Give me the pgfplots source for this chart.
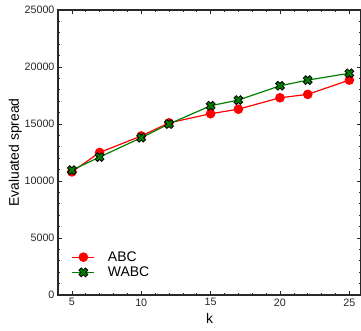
\documentclass[border=0pt]{standalone}
\usepackage{pgfplots}
\pgfplotsset{compat=1.18}
\usepackage{fontspec}
\setmainfont{Liberation Sans}
\setsansfont{Liberation Sans}
\definecolor{tickgray}{RGB}{40,40,40}
\definecolor{wgreen}{RGB}{0,128,0}
\pgfdeclareplotmark{fatx}{%
  \pgftransformrotate{45}%
  \pgfmathsetmacro{\r}{\pgfplotmarksize}%
  \pgfmathsetmacro{\a}{0.36*\pgfplotmarksize}%
  \pgfpathmoveto{\pgfpoint{\a pt}{\r pt}}%
  \pgfpathlineto{\pgfpoint{\a pt}{\a pt}}%
  \pgfpathlineto{\pgfpoint{\r pt}{\a pt}}%
  \pgfpathlineto{\pgfpoint{\r pt}{-\a pt}}%
  \pgfpathlineto{\pgfpoint{\a pt}{-\a pt}}%
  \pgfpathlineto{\pgfpoint{\a pt}{-\r pt}}%
  \pgfpathlineto{\pgfpoint{-\a pt}{-\r pt}}%
  \pgfpathlineto{\pgfpoint{-\a pt}{-\a pt}}%
  \pgfpathlineto{\pgfpoint{-\r pt}{-\a pt}}%
  \pgfpathlineto{\pgfpoint{-\r pt}{\a pt}}%
  \pgfpathlineto{\pgfpoint{-\a pt}{\a pt}}%
  \pgfpathlineto{\pgfpoint{-\a pt}{\r pt}}%
  \pgfpathclose
  \pgfusepathqfillstroke
}
\begin{document}
\begin{tikzpicture}
\begin{axis}[
  scale only axis,
  width=303bp, height=285bp,
  xmin=4, xmax=25.84,
  ymin=0, ymax=25000,
  xtick={5,10,15,20,25},
  ytick={0,5000,10000,15000,20000,25000},
  minor x tick num=4,
  minor y tick num=4,
  tick align=inside,
  major tick length=4bp,
  minor tick length=2bp,
  tick style={color=tickgray, line width=0.7pt},
  axis line style={color=tickgray, line width=1.2pt},
  scaled y ticks=false,
  /pgf/number format/assume math mode=true,
  /pgf/number format/1000 sep={},
  ticklabel style={font=\fontsize{10.8}{12}\selectfont, text=tickgray},
  xlabel={k},
  ylabel={Evaluated spread},
  label style={font=\fontsize{14}{16}\selectfont},
  xlabel style={yshift=0bp},
  ylabel style={yshift=-4bp},
  legend style={at={(0.035,0.045)}, anchor=south west, draw=none, fill=none,
    font=\fontsize{14}{17}\selectfont, row sep=0bp},
  legend cell align=left,
  legend image code/.code={%
    \draw[mark repeat=2,mark phase=2] plot coordinates {(0bp,0bp)(11bp,0bp)(22bp,0bp)};},
  clip=false,
]
\addplot[color=red, line width=1.2pt, mark=*, mark size=4.2bp, mark options={fill=red, draw=red}]
  coordinates {(5,10800)(7,12500)(10,13950)(12,15100)(15,15900)(17,16300)(20,17300)(22,17600)(25,18850)};
\addlegendentry{\hspace*{11bp}ABC}
\addplot[color=wgreen, line width=1.2pt, mark=fatx, mark size=4.6bp, mark options={fill=wgreen, draw=black, line width=0.8pt}]
  coordinates {(5,10950)(7,12100)(10,13800)(12,15000)(15,16600)(17,17100)(20,18350)(22,18850)(25,19450)};
\addlegendentry{\hspace*{11bp}WABC}
\end{axis}
\pgfresetboundingbox
\path[use as bounding box] ([xshift=-58bp,yshift=-36bp]current axis.south west) rectangle ([yshift=10bp]current axis.north east);
\end{tikzpicture}
\end{document}
